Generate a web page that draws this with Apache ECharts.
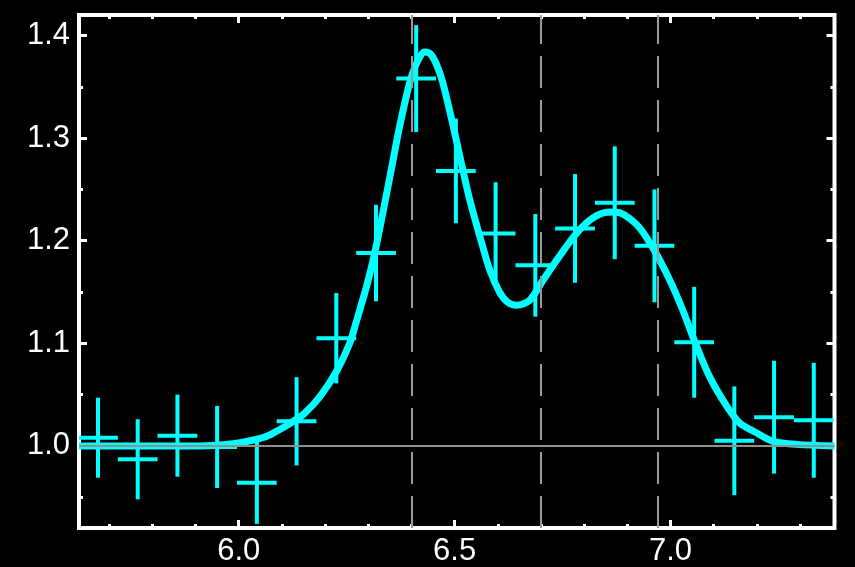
<!DOCTYPE html>
<html>
<head>
<meta charset="utf-8">
<script src="https://cdn.jsdelivr.net/npm/echarts@6/dist/echarts.min.js"></script>
<style>
html,body{margin:0;padding:0;background:#000;}
#chart{width:855px;height:567px;}
</style>
</head>
<body>
<div id="chart"></div>
<script>
// ---- data ----
const binCenters = [5.674, 5.766, 5.858, 5.950, 6.042, 6.134, 6.226, 6.318, 6.411, 6.503,
                    6.595, 6.687, 6.779, 6.871, 6.963, 7.055, 7.148, 7.240, 7.332];
const ratioValues = [1.008, 0.987, 1.010, 0.999, 0.964, 1.024, 1.105, 1.188, 1.358, 1.268,
                     1.207, 1.176, 1.212, 1.237, 1.195, 1.101, 1.005, 1.028, 1.025];
const ratioErrors = [0.039, 0.039, 0.040, 0.040, 0.040, 0.043, 0.044, 0.047, 0.052, 0.051,
                     0.050, 0.050, 0.053, 0.055, 0.055, 0.054, 0.053, 0.055, 0.056];
const binHalfWidth = 0.046;

const modelX = [5.630, 5.748, 5.863, 5.938, 6.000, 6.063, 6.095, 6.123, 6.153, 6.188,
                6.227, 6.257, 6.273, 6.299, 6.319, 6.350, 6.373, 6.396, 6.412, 6.431,
                6.444, 6.458, 6.472, 6.495, 6.516, 6.535, 6.558, 6.581, 6.604, 6.623,
                6.644, 6.674, 6.704, 6.743, 6.782, 6.813, 6.843, 6.873, 6.921, 6.958,
                6.998, 7.028, 7.056, 7.090, 7.130, 7.160, 7.199, 7.236, 7.292, 7.380];
const modelY = [1.000, 1.000, 1.000, 1.0005, 1.003, 1.009, 1.016, 1.023, 1.032, 1.048,
                1.073, 1.100, 1.122, 1.160, 1.196, 1.262, 1.312, 1.354, 1.373, 1.384,
                1.382, 1.372, 1.355, 1.315, 1.275, 1.240, 1.205, 1.172, 1.150, 1.140,
                1.137, 1.142, 1.161, 1.185, 1.207, 1.220, 1.227, 1.228, 1.216, 1.194,
                1.162, 1.133, 1.102, 1.068, 1.039, 1.0225, 1.0128, 1.0047, 1.0015, 1.000];

const lineEnergies = [6.40, 6.70, 6.97];
const baselineValue = 1.0;

const xRange = [5.63, 7.38];
const yRange = [0.92, 1.42];
const xMajorTicks = [6.0, 6.5, 7.0];
const xMinorTicks = [5.7, 5.8, 5.9, 6.1, 6.2, 6.3, 6.4, 6.6, 6.7, 6.8, 6.9, 7.1, 7.2, 7.3];
const yMajorTicks = [1.0, 1.1, 1.2, 1.3, 1.4];
const yMinorTicks = [0.95, 1.05, 1.15, 1.25, 1.35];

// ---- chart ----
const chart = echarts.init(document.getElementById('chart'), null, {renderer: 'canvas'});
const FONT = '"Liberation Sans", Arial, Helvetica, sans-serif';
const WHITE = '#ffffff';
const CYAN = '#00ffff';

function makeAxis(kind, position, ticks, len, showLabels) {
  return {
    type: 'value',
    position: position,
    min: kind === 'x' ? xRange[0] : yRange[0],
    max: kind === 'x' ? xRange[1] : yRange[1],
    axisLine: {show: false},
    splitLine: {show: false},
    axisTick: {show: true, inside: true, length: len, customValues: ticks,
               lineStyle: {color: WHITE, width: 3}},
    axisLabel: {show: showLabels, customValues: ticks, color: WHITE,
                fontFamily: FONT, fontSize: 31,
                margin: kind === 'x' ? 8 : 9,
                formatter: v => Number(v).toFixed(1)}
  };
}

const option = {
  backgroundColor: '#000',
  animation: false,
  grid: {left: 79, right: 20.5, top: 15, bottom: 38, show: true,
         borderColor: WHITE, borderWidth: 4, backgroundColor: '#000'},
  xAxis: [
    makeAxis('x', 'bottom', xMajorTicks, 8, true),
    makeAxis('x', 'bottom', xMinorTicks, 4, false),
    makeAxis('x', 'top', xMajorTicks, 8, false),
    makeAxis('x', 'top', xMinorTicks, 4, false)
  ],
  yAxis: [
    makeAxis('y', 'left', yMajorTicks, 8, true),
    makeAxis('y', 'left', yMinorTicks, 4, false),
    makeAxis('y', 'right', yMajorTicks, 8, false),
    makeAxis('y', 'right', yMinorTicks, 4, false)
  ],
  series: [
    {
      type: 'line', data: [], z: 1, silent: true,
      markLine: {
        silent: true, symbol: 'none', animation: false,
        label: {show: false},
        data: lineEnergies.map(e => ({xAxis: e, lineStyle: {type: [32, 12], color: '#999999', width: 2}}))
          .concat([{yAxis: baselineValue, lineStyle: {type: 'solid', color: '#8f8f8f', width: 2}}])
      }
    },
    {
      type: 'custom', z: 2, clip: true,
      data: binCenters.map((x, i) => [x, ratioValues[i], ratioErrors[i]]),
      renderItem: function (params, api) {
        const x = api.value(0), y = api.value(1), e = api.value(2);
        const top = api.coord([x, y + e]);
        const bot = api.coord([x, y - e]);
        const l = api.coord([x - binHalfWidth, y]);
        const r = api.coord([x + binHalfWidth, y]);
        const style = {stroke: CYAN, lineWidth: 4, fill: null};
        return {
          type: 'group',
          children: [
            {type: 'line', shape: {x1: top[0], y1: top[1], x2: bot[0], y2: bot[1]}, style: style},
            {type: 'line', shape: {x1: l[0], y1: l[1], x2: r[0], y2: r[1]}, style: style}
          ]
        };
      }
    },
    {
      type: 'line', z: 3, smooth: 0.3, showSymbol: false, clip: true,
      data: modelX.map((x, i) => [x, modelY[i]]),
      lineStyle: {color: CYAN, width: 7}
    }
  ]
};
chart.setOption(option);
</script>
</body>
</html>
